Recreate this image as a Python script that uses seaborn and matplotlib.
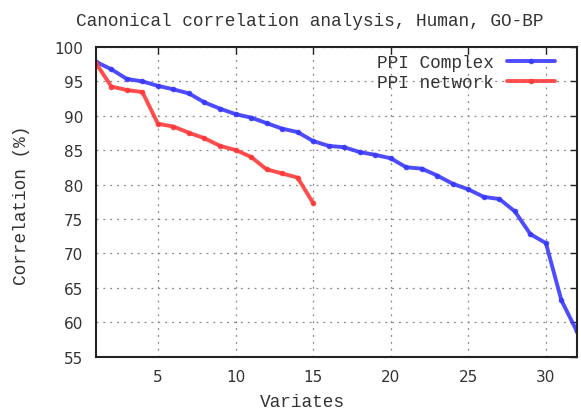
import pandas as pd
import matplotlib
matplotlib.use("Agg")
import matplotlib.pyplot as plt
import seaborn as sns

# Data
complex_vals = [97.8, 96.7, 95.3, 94.95, 94.3, 93.8, 93.2, 91.9, 91.0, 90.2,
                89.7, 88.9, 88.1, 87.6, 86.3, 85.6, 85.4, 84.7, 84.3, 83.8,
                82.5, 82.3, 81.3, 80.1, 79.3, 78.2, 77.9, 76.1, 72.8, 71.5,
                63.2, 58.7]
network_vals = [97.6, 94.2, 93.7, 93.4, 88.8, 88.4, 87.5, 86.7, 85.6, 85.0,
                84.0, 82.2, 81.6, 81.0, 77.3]
series_names = ["PPI Complex", "PPI network"]
x_ticks = [5, 10, 15, 20, 25, 30]
y_ticks = [55, 60, 65, 70, 75, 80, 85, 90, 95, 100]

df = pd.concat([
    pd.DataFrame({"Variates": range(1, len(complex_vals) + 1),
                  "Correlation": complex_vals, "series": series_names[0]}),
    pd.DataFrame({"Variates": range(1, len(network_vals) + 1),
                  "Correlation": network_vals, "series": series_names[1]}),
])

sns.set_style("white")
plt.rcParams["font.family"] = ["Liberation Mono", "DejaVu Sans Mono"]
txt = "#333333"

fig = plt.figure(figsize=(5.81, 4.10), dpi=100)
ax = fig.add_axes([0.165, 0.127, 0.828, 0.757])

sns.lineplot(
    data=df, x="Variates", y="Correlation", hue="series",
    palette={"PPI Complex": "#3a3aff", "PPI network": "#ff3a3a"},
    marker="o", markersize=4, markeredgewidth=0, linewidth=2.8,
    alpha=0.9, ax=ax,
)

ax.set_xlim(1, 32)
ax.set_ylim(55, 100)
ax.set_xticks(x_ticks)
ax.set_yticks(y_ticks)
ax.grid(True, color="#888888", linestyle=(0, (1.5, 4)), linewidth=0.9)
ax.tick_params(direction="in", length=5, width=1, top=True, right=True,
               labelsize=11, pad=9, colors="#222222", labelcolor=txt)
for lab in ax.get_xticklabels() + ax.get_yticklabels():
    lab.set_fontfamily("DejaVu Sans")
for s in ax.spines.values():
    s.set_color("#222222")
    s.set_linewidth(1.5)

ax.set_xlabel("")
ax.set_ylabel("")
fig.text(310 / 581, 1 - 21 / 410, "Canonical correlation analysis, Human, GO-BP",
         fontsize=12.8, color=txt, ha="center", va="center")
fig.text(302 / 581, 1 - 403 / 410, "Variates", fontsize=12.8, color=txt,
         ha="center", va="center")
fig.text(22 / 581, 1 - 205 / 410, "Correlation (%)", fontsize=12.8, color=txt,
         ha="center", va="center", rotation=90)

ax.legend(
    loc="upper right", frameon=False, markerfirst=False, fontsize=12.8,
    handlelength=2.7, handletextpad=0.7, borderaxespad=0, borderpad=0,
    labelspacing=0.15, bbox_to_anchor=(0.954, 0.975),
    labelcolor=txt,
)

plt.savefig("out.png", dpi=100)
